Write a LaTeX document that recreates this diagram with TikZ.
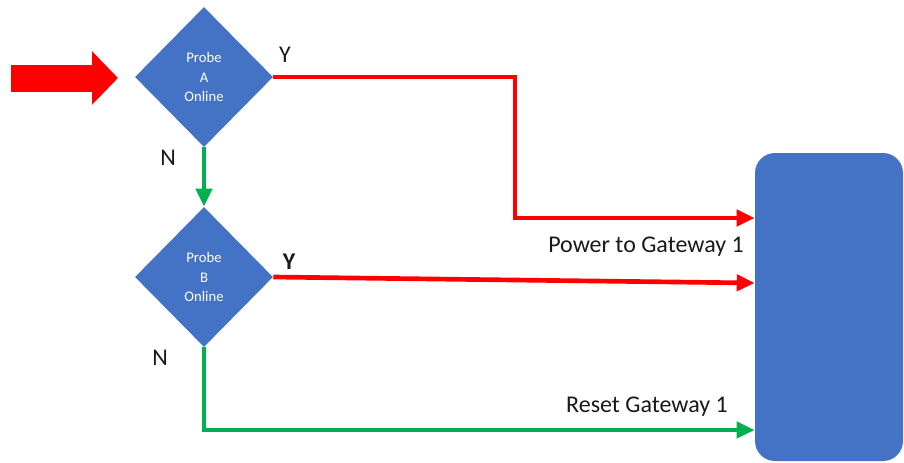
\documentclass[tikz,border=0pt]{standalone}
\usepackage{fontspec}
\setmainfont{Carlito}
\usetikzlibrary{shapes.geometric,arrows.meta}
\definecolor{boxblue}{HTML}{4472C4}
\definecolor{yesred}{HTML}{FF0000}
\definecolor{nogreen}{HTML}{00B050}
\begin{document}
\begin{tikzpicture}[x=0.75pt, y=-0.75pt, line join=miter,
	probe/.style={diamond, fill=boxblue, minimum width=103.5pt, minimum height=105pt, inner sep=0pt, align=center, text=white, font=\fontsize{11}{14.6}\selectfont},
	yes/.style={yesred, line width=3.5pt, -{Triangle[length=13.5pt, width=12pt]}},
	no/.style={nogreen, line width=3.5pt, -{Triangle[length=13.5pt, width=12pt]}},
	lbl/.style={font=\fontsize{18}{20}\selectfont, text=black!90}]
	\useasboundingbox (0,0) rectangle (904,462);
	\node[probe] (A) at (204,77) {Probe\\A\\Online};
	\node[probe] (B) at (204,277) {Probe\\B\\Online};
	\node[fill=boxblue, rounded corners=15pt, minimum width=111pt, minimum height=231pt, inner sep=0pt] (gw) at (829,307) {};
	\coordinate (src) at (11,78);
	\draw[yesred, line width=20.25pt, -{Triangle[length=19.5pt, width=39pt]}] (src) -- (118,78);
	\draw[yes] (A.east) -- (515,77) -- (515,218) -- (gw.west |- 0,218);
	\draw[yes] (B.east) -- (gw.west |- 0,283);
	\draw[no] (A.south) -- (B.north);
	\draw[no] (B.south) |- (gw.west |- 0,430);
	\node[lbl] (ya) at (285,55) {Y};
	\node[lbl] (na) at (168,158) {N};
	\node[lbl] (yb) at (289,262) {\bfseries Y};
	\node[lbl] (nb) at (160,358) {N};
	\node[lbl] (power) at (646,247) {Power to Gateway 1};
	\node[lbl] (reset) at (647,407) {Reset Gateway 1};
\end{tikzpicture}
\end{document}
